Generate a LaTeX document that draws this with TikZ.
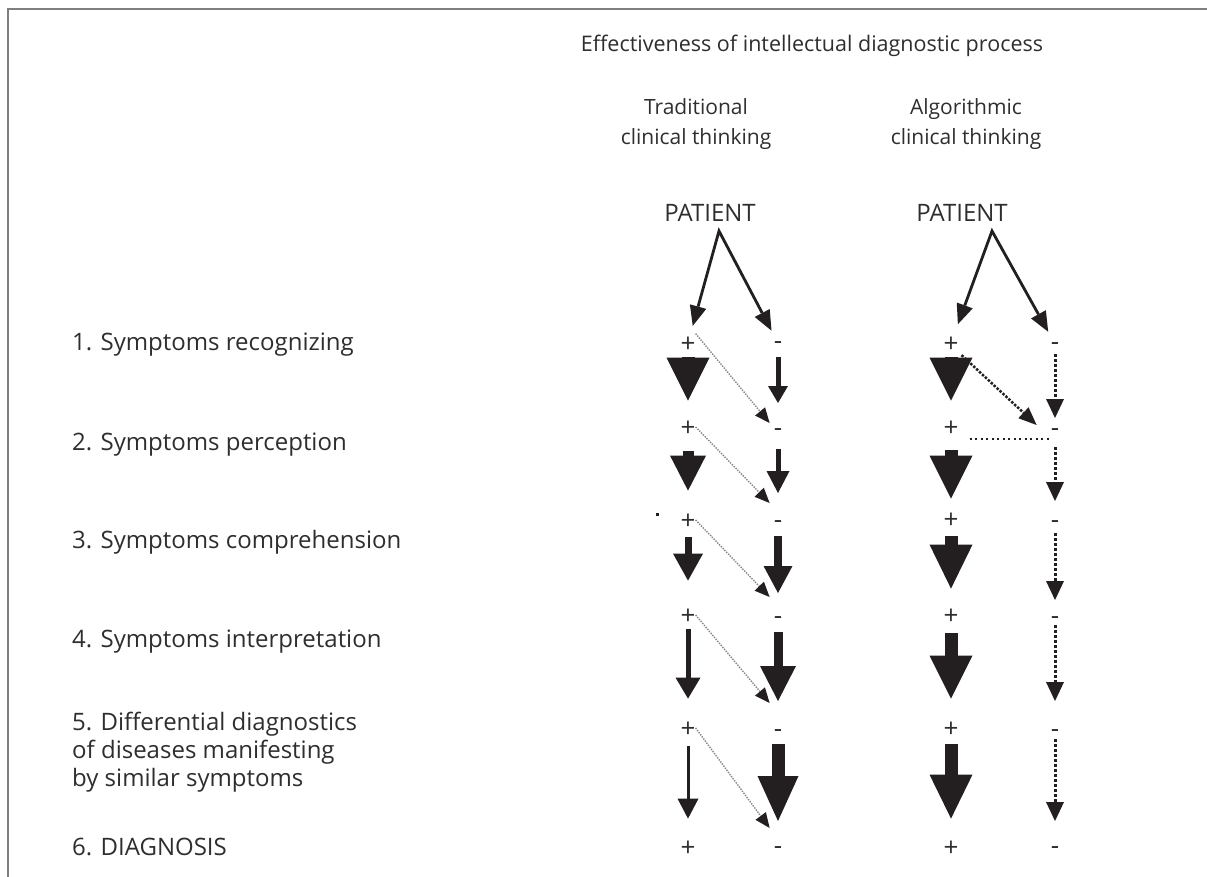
\documentclass[tikz,border=0pt]{standalone}
\usepackage{fontspec}
\setmainfont{Open Sans}
\usepackage{xcolor}
\usetikzlibrary{arrows.meta}

\definecolor{ink}{HTML}{231F20}
\definecolor{txtgray}{HTML}{2E2E2E}
\definecolor{rulegray}{HTML}{7F7F7F}

\begin{document}
\begin{tikzpicture}[
  x=1pt, y=-1pt,
  font=\fontsize{24}{30}\selectfont, text=txtgray,
  word/.style={inner sep=0pt, text height=17pt, text depth=0pt},
  lbl/.style={word, anchor=west},
  stack/.style={inner sep=0pt, align=#1},
  plus/.style={inner sep=0pt, font=\fontsize{26}{30}\selectfont, text height=18.4pt, text depth=0pt},
  minus/.style={inner sep=0pt, font=\fontsize{26}{30}\selectfont, text height=13.6pt, text depth=0pt},
  pat/.style={draw=ink, line width=2.8pt, line join=miter, {Triangle[width=17pt, length=20pt, line width=0pt]}-{Triangle[width=17pt, length=20pt, line width=0pt]}},
  blk/.style n args={3}{draw=ink, line width=#1, -{Triangle[width=#2, length=#3, line width=0pt]}},
  dotv/.style={draw=ink, line width=3pt, dash pattern=on 3pt off 2pt, -{Triangle[width=18pt, length=19pt, line width=0pt]}},
  diag/.style={draw=ink!55, line width=1.4pt, dash pattern=on 1.4pt off 1.2pt, -{Triangle[width=13pt, length=15pt, line width=0pt, color=ink]}},
  diagb/.style={draw=ink, line width=2.5pt, dash pattern=on 2.5pt off 1.5pt, -{Triangle[width=15pt, length=18pt, line width=0pt]}},
  hdot/.style={draw=ink, line width=2pt, dash pattern=on 2pt off 3.5pt}
]
\useasboundingbox (0,0) rectangle (1207,877);
\draw[rulegray, line width=1.5pt] (8,877) |- (1207,9);

% Headings
\node[word, font=\fontsize{21.5}{26}\selectfont] (head) at (812,43) {Effectiveness of intellectual diagnostic process};
\node[stack=center, anchor=north, font=\fontsize{21}{30}\selectfont] (trad) at (696,98) {Traditional\\clinical thinking};
\node[stack=center, anchor=north, font=\fontsize{21}{30}\selectfont] (algo) at (966,98) {Algorithmic\\clinical thinking};
\node[word] (tpat) at (710,213) {PATIENT};
\node[word] (apat) at (962,213) {PATIENT};
\coordinate (tapex) at (719,231);
\coordinate (aapex) at (992,231);

% Stages
\node[lbl] (s1) at (72,342) {1. Symptoms recognizing};
\node[lbl] (s2) at (72,442) {2. Symptoms perception};
\node[lbl] (s3) at (72,540) {3. Symptoms comprehension};
\node[lbl] (s4) at (72,639) {4. Symptoms interpretation};
\node[stack=left, anchor=north west, font=\fontsize{24}{28}\selectfont] (s5) at (72,712) {5. Differential diagnostics\\of diseases manifesting\\by similar symptoms};
\node[lbl] (s6) at (72,847) {6. DIAGNOSIS};

% Plus / minus marks
\foreach \i/\y in {1/343,2/427,3/520,4/615,5/728,6/847} \node[plus] (tp\i) at (688,\y) {+};
\foreach \i/\y in {1/343,2/430,3/522,4/618,5/731,6/848} \node[minus] (tm\i) at (778,\y) {-};
\foreach \i/\y in {1/343,2/427,3/519,4/615,5/728,6/847} \node[plus] (ap\i) at (951,\y) {+};
\foreach \i/\y in {1/344,2/430,3/522,4/618,5/731,6/848} \node[minus] (am\i) at (1055,\y) {-};

% Patient split
\draw[pat, shorten <=8pt, shorten >=6pt] (tp1) -- (tapex) -- (tm1);
\draw[pat, shorten <=10pt, shorten >=6pt] (ap1) -- (aapex) -- (am1);

% Traditional: plus side
\draw[blk={13pt}{43pt}{43pt}, shorten <=5pt, shorten >=17pt] (tp1) -- (tp2);
\draw[blk={11pt}{36pt}{35pt}, shorten <=15pt, shorten >=20pt] (tp2) -- (tp3);
\draw[blk={7pt}{30pt}{27pt}, shorten <=8pt, shorten >=25pt] (tp3) -- (tp4);
\draw[blk={5pt}{25pt}{21pt}, shorten <=5pt, shorten >=20pt] (tp4) -- (tp5);
\draw[blk={3pt}{21pt}{20pt}, shorten <=9pt, shorten >=19pt] (tp5) -- (tp6);

% Traditional: minus side
\draw[blk={5pt}{20pt}{17pt}, shorten <=7pt, shorten >=20pt] (tm1) -- (tm2);
\draw[blk={5pt}{23pt}{22pt}, shorten <=12pt, shorten >=22pt] (tm2) -- (tm3);
\draw[blk={8pt}{29pt}{27pt}, shorten <=7pt, shorten >=18pt] (tm3) -- (tm4);
\draw[blk={9pt}{36pt}{35pt}, shorten <=7pt, shorten >=23pt] (tm4) -- (tm5);
\draw[blk={13pt}{41pt}{45pt}, shorten <=6pt, shorten >=20pt] (tm5) -- (tm6);

% Traditional: drift from plus to minus
\draw[diag] (tp1.north east) -- ([xshift=-4pt]tm2.north west);
\draw[diag] (tp2.east) -- ([xshift=-4pt,yshift=12pt]tm3.north west);
\draw[diag] (tp3.east) -- ([xshift=-4pt,yshift=14pt]tm4.north west);
\draw[diag] (tp4.east) -- ([xshift=-4pt,yshift=21pt]tm5.north west);
\draw[diag] (tp5.east) -- ([xshift=-4pt,yshift=13pt]tm6.north west);
\fill[ink] (656,513) rectangle (659,516);

% Algorithmic: plus side
\draw[blk={13pt}{43pt}{43pt}, shorten <=5pt, shorten >=17pt] (ap1) -- (ap2);
\draw[blk={13pt}{43pt}{43pt}, shorten <=14pt, shorten >=11pt] (ap2) -- (ap3);
\draw[blk={13pt}{43pt}{44pt}, shorten <=8pt, shorten >=17pt] (ap3) -- (ap4);
\draw[blk={13pt}{43pt}{43pt}, shorten <=9pt, shorten >=20pt] (ap4) -- (ap5);
\draw[blk={13pt}{43pt}{44pt}, shorten <=7pt, shorten >=19pt] (ap5) -- (ap6);

% Algorithmic: minus side
\draw[dotv, shorten <=3pt, shorten >=5pt] (am1) -- (am2);
\draw[dotv, shorten <=10pt, shorten >=14pt] (am2) -- (am3);
\draw[dotv, shorten <=4pt, shorten >=11pt] (am3) -- (am4);
\draw[dotv, shorten >=23pt] (am4) -- (am5);
\draw[dotv, shorten <=1pt, shorten >=20pt] (am5) -- (am6);

\draw[diagb, shorten <=4pt] (ap1.south east) -- ([xshift=-14pt,yshift=-2pt]am2.north west);
\draw[hdot] ([shift={(11,12)}]ap2.east) -- ([shift={(-5,9)}]am2.center);
\end{tikzpicture}
\end{document}
